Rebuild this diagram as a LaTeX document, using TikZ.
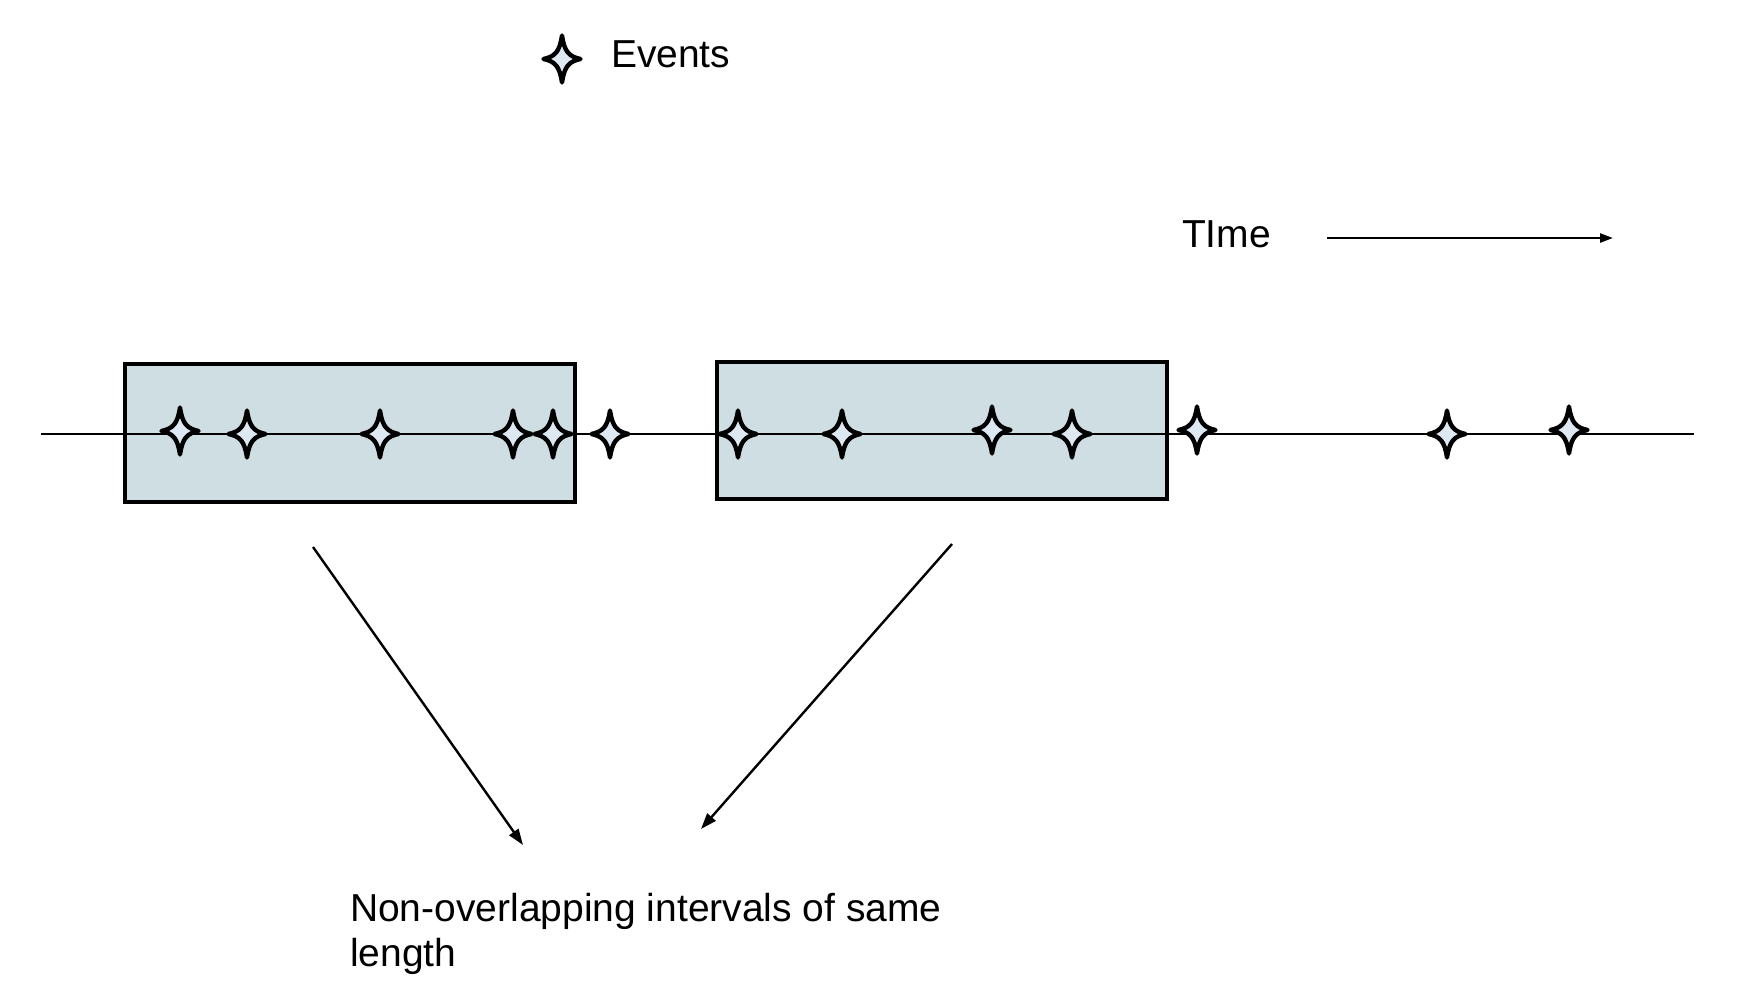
\documentclass[tikz,border=0pt]{standalone}
\usepackage{fontspec}
\setmainfont{Liberation Sans}
\usetikzlibrary{arrows.meta}
\definecolor{boxfill}{HTML}{CFDEE2}
\definecolor{starfill}{HTML}{DDE8F3}
\tikzset{
  intervalbox/.style={draw=black, line width=3.2pt, fill=boxfill},
  timeline/.style={draw=black, line width=2.8pt},
  pointer/.style={draw=black, line width=2.4pt, -{Triangle[length=16pt,width=11pt]}},
  timearrow/.style={draw=black, line width=2.4pt, -{Triangle[length=13pt,width=9pt]}},
  label/.style={font=\fontsize{39}{45}\selectfont, inner sep=0pt, outer sep=0pt},
  evstar/.pic={
    \draw[line width=4.4pt, line join=round, fill=starfill]
      (0,-23.5) .. controls (2.5,-7) and (7,-2.5) .. (18.5,0)
      .. controls (7,2.5) and (2.5,7) .. (0,23.5)
      .. controls (-2.5,7) and (-7,2.5) .. (-18.5,0)
      .. controls (-7,-2.5) and (-2.5,-7) .. cycle;
  }
}
\begin{document}
\begin{tikzpicture}[x=1pt,y=-1pt]
\useasboundingbox (0,0) rectangle (1759,993);
% legend
\pic at (562,59) {evstar};
\node[label, anchor=base west] (events) at (611,67) {Events};
% time label and arrow
\node[label, anchor=base west] (time) at (1182,247) {TIme};
\coordinate (ta0) at (1327,238);
\coordinate (ta1) at (1613,238);
\draw[timearrow] (ta0) -- (ta1);
% interval boxes
\node[intervalbox, minimum width=450pt, minimum height=138pt, inner sep=0pt] (box1) at (350,433) {};
\node[intervalbox, minimum width=450pt, minimum height=137pt, inner sep=0pt] (box2) at (942,430.5) {};
% timeline
\coordinate (tl0) at (41,434);
\coordinate (tl1) at (1694,434);
\draw[timeline] (tl0) -- (tl1);
% events
\foreach \x/\y in {180/431,247/434,380/434,513/434,553/434,610/434,738/434,842/434,992/430,1072/434,1197/430,1447/434,1569/430}
  \pic at (\x,\y) {evstar};
% pointers
\coordinate (p1s) at (313,547);
\coordinate (p1e) at (523,845);
\coordinate (p2s) at (952,544);
\coordinate (p2e) at (701,829);
\draw[pointer] (p1s) -- (p1e);
\draw[pointer] (p2s) -- (p2e);
% caption (base anchor sits on the last line)
\node[label, anchor=base west, align=left] (caption) at (350,966) {Non-overlapping intervals of same\\length};
\end{tikzpicture}
\end{document}
